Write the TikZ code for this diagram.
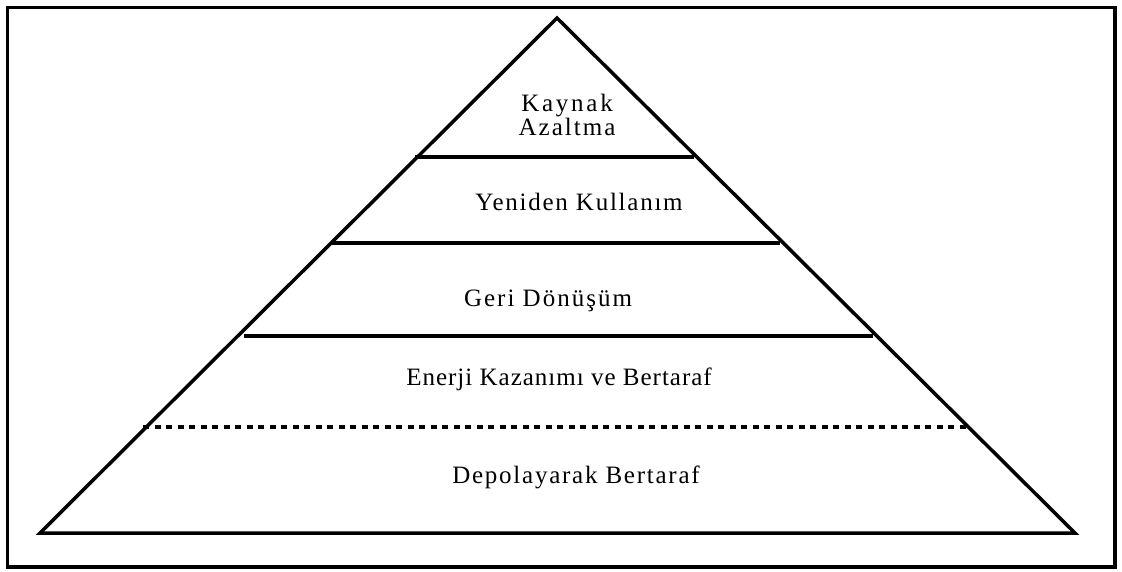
\documentclass[tikz,border=0pt]{standalone}
\usepackage{fontspec}
\setmainfont{Liberation Serif}
\newcommand{\spaced}[2]{{\addfontfeature{LetterSpace=#1}#2}}
\begin{document}
\begin{tikzpicture}[x=1pt,y=-1pt,
  frame/.style={line width=3.5pt},
  level/.style={line width=3.5pt},
  split/.style={line width=3.5pt,dash pattern=on 6pt off 5.5pt},
  lbl/.style={anchor=base,inner sep=0pt,font=\fontsize{25}{22}\selectfont}]
\useasboundingbox (0,0) rectangle (1122,571);
% outer frame
\draw[frame] (7.5,7.5) rectangle (1115,567);
% pyramid outline
\coordinate (apex) at (557,18);
\coordinate (bl) at (40,533);
\coordinate (br) at (1075,533);
\draw[frame,line join=miter] (apex) -- (bl) -- (br) -- cycle;
% level separators
\draw[level] (415,157) -- (694,157);
\draw[level] (331,243) -- (780,243);
\draw[level] (244,336) -- (873,336);
\draw[split] (143,427) -- (966,427);
% level labels (the two-line label is anchored on its last baseline)
\node[lbl,align=center] (l1) at (567,135) {\spaced{11}{Kaynak}\\\spaced{8}{Azaltma}};
\node[lbl] (l2) at (579,210) {\spaced{7}{Yeniden Kullanım}};
\node[lbl] (l3) at (548,306) {\spaced{8}{Geri Dönüşüm}};
\node[lbl] (l4) at (559,385) {\spaced{4}{Enerji Kazanımı ve Bertaraf}};
\node[lbl] (l5) at (576,483) {\spaced{7}{Depolayarak Bertaraf}};
\end{tikzpicture}
\end{document}
